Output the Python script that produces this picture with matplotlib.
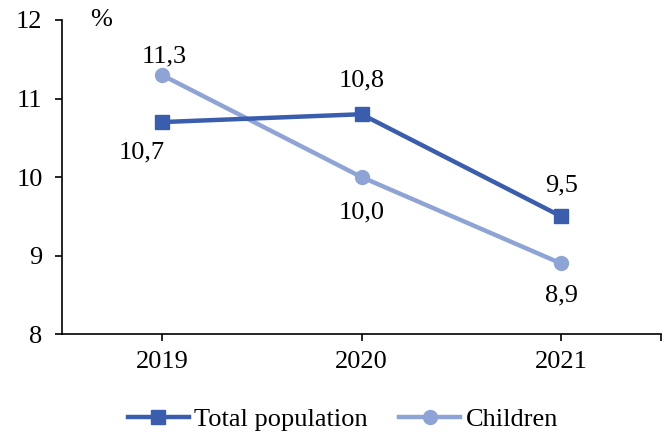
import matplotlib
matplotlib.use('Agg')
import matplotlib.pyplot as plt

years = ['2019', '2020', '2021']
total = [10.7, 10.8, 9.5]
children = [11.3, 10.0, 8.9]
total_labels = ['10,7', '10,8', '9,5']
child_labels = ['11,3', '10,0', '8,9']

plt.rcParams['font.family'] = ['Liberation Serif', 'DejaVu Serif']
plt.rcParams['font.size'] = 19

dark = '#3A5DAE'
light = '#8FA4D6'

fig = plt.figure(figsize=(6.67, 4.34), dpi=100)
ax = fig.add_axes([0.093, 0.230, 0.898, 0.724])

x = list(range(len(years)))
ax.plot(x, total, color=dark, lw=3.2, marker='s', ms=10, label='Total population', zorder=3)
ax.plot(x, children, color=light, lw=3.2, marker='o', ms=10, label='Children', zorder=2)

# data labels, offsets in pixels
t_off = [(-20, -30), (0, 34), (0, 31)]
c_off = [(2, 18), (0, -35), (0, -32)]
for i in x:
    ax.annotate(total_labels[i], (i, total[i]), xytext=t_off[i], textcoords='offset pixels',
                ha='center', va='center')
    ax.annotate(child_labels[i], (i, children[i]), xytext=c_off[i], textcoords='offset pixels',
                ha='center', va='center')

ax.set_xlim(-0.5, 2.5)
ax.set_ylim(8, 12)
ax.set_yticks([8, 9, 10, 11, 12])
ax.set_xticks([0, 1, 2, 2.5])
ax.set_xticklabels(years + [''])
ax.spines['top'].set_visible(False)
ax.spines['right'].set_visible(False)
ax.spines['left'].set_linewidth(1.2)
ax.spines['bottom'].set_linewidth(1.2)
ax.tick_params(axis='both', direction='out', length=5, width=1.2)
ax.tick_params(axis='x', pad=7)
ax.tick_params(axis='y', pad=9)

ax.text(0.065, 1.0, '%', transform=ax.transAxes, ha='center', va='center')

ax.legend(loc='center', bbox_to_anchor=(0.469, -0.27), ncol=2, frameon=False,
          handlelength=2.3, columnspacing=1.2, handletextpad=0.2)

plt.savefig('out.png')
